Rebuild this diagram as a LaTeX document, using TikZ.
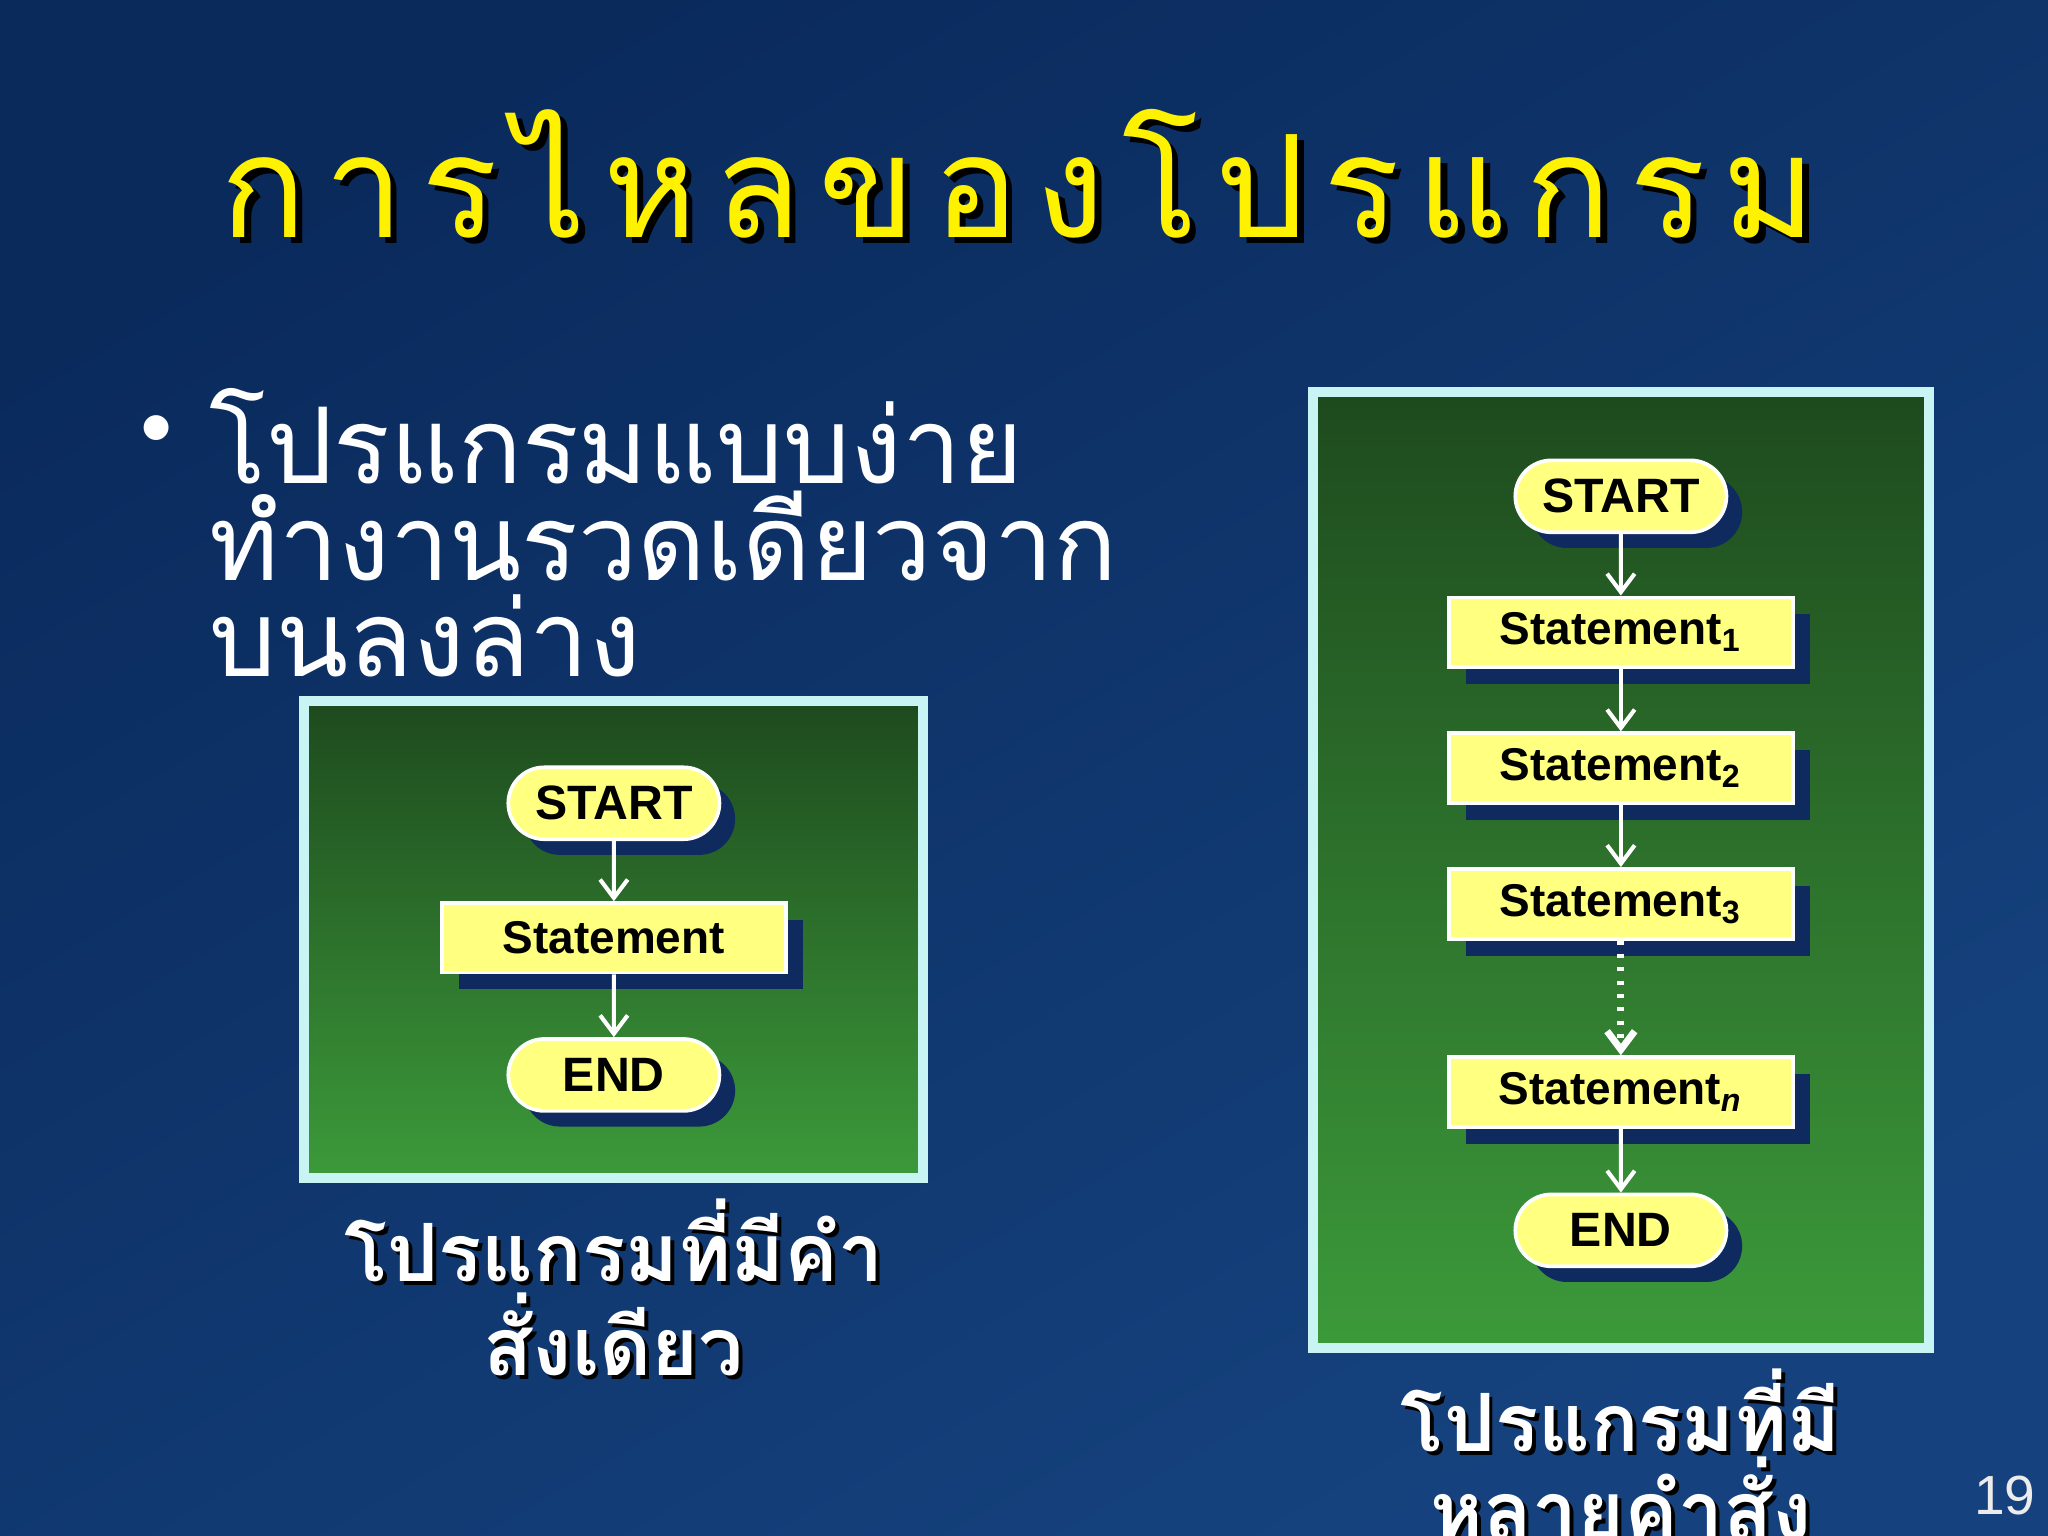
\documentclass[tikz,border=0pt]{standalone}
\usepackage{fontspec}
\setmainfont{Liberation Sans}
\newfontfamily\thai[Script=Thai]{Loma}
\newfontfamily\thaiT[Script=Thai,LetterSpace=12]{Loma}
\usetikzlibrary{shadows,arrows.meta,shapes.misc}
\definecolor{bgA}{HTML}{0A2A5C}
\definecolor{bgB}{HTML}{15427E}
\definecolor{grA}{HTML}{1E4A1E}
\definecolor{grB}{HTML}{3C9A3A}
\definecolor{frame}{HTML}{C8F4F4}
\definecolor{boxy}{HTML}{FFFF80}
\definecolor{shd}{HTML}{0E2A5E}
\tikzset{
 pane/.style={draw=frame,line width=2.2pt,top color=grA,bottom color=grB},
 pill/.style={rounded rectangle,fill=boxy,draw=white,line width=0.8pt,minimum width=1.85cm,minimum height=0.55cm,font=\bfseries\fontsize{10.5}{10.5}\selectfont,drop shadow={shadow xshift=0.12cm,shadow yshift=-0.12cm,fill=shd,opacity=1}},
 stm/.style={rectangle,fill=boxy,draw=white,line width=0.8pt,minimum width=2.63cm,minimum height=0.53cm,font=\bfseries\fontsize{10}{10}\selectfont,drop shadow={shadow xshift=0.13cm,shadow yshift=-0.13cm,fill=shd,opacity=1}},
 flow/.style={draw=white,line width=0.9pt,-{Straight Barb[length=4pt,width=6pt]}},
 captxt/.style={font=\thai\bfseries\fontsize{17.5}{17.5}\selectfont,text=white},
}
\begin{document}
\begin{tikzpicture}[x=0.01cm,y=-0.01cm]
\shade[top color=bgA,bottom color=bgB,shading angle=30] (0,0) rectangle (1568,1176);
\useasboundingbox (0,0) rectangle (1568,1176);
% title
\node[text=black,font=\thaiT\fontsize{31}{31}\selectfont] (tsh) at (785,138) {การไหลของโปรแกรม};
\node[text=yellow,font=\thaiT\fontsize{31}{31}\selectfont] (title) at (780,133) {การไหลของโปรแกรม};
% bullet
\node[text=white,anchor=west] (dot) at (95,335) {\fontsize{20}{20}\selectfont •};
\node[text=white,anchor=north west,align=left,font=\thai\fontsize{23}{21}\selectfont] (btxt) at (148,285) {โปรแกรมแบบง่าย\\ทำงานรวดเดียวจาก\\บนลงล่าง};
% left pane
\draw[pane] (233,537) rectangle (707,902);
\node[pill] (s1) at (470,615) {START};
\node[stm] (st) at (470,718) {Statement};
\node[pill] (e1) at (470,823) {END};
\draw[flow] (s1) -- (st);
\draw[flow] (st) -- (e1);
\node[captxt,text=black] at (473,953) {โปรแกรมที่มีคำ};
\node[captxt] (c1) at (470,950) {โปรแกรมที่มีคำ};
\node[captxt,text=black] at (473,1025) {สั่งเดียว};
\node[captxt] (c2) at (470,1022) {สั่งเดียว};
% right pane
\draw[pane] (1005,300) rectangle (1477,1032);
\node[pill] (s2) at (1241,380) {START};
\node[stm] (a1) at (1241,484) {Statement\textsubscript{1}};
\node[stm] (a2) at (1241,588) {Statement\textsubscript{2}};
\node[stm] (a3) at (1241,692) {Statement\textsubscript{3}};
\node[stm] (an) at (1241,836) {Statement\textsubscript{\itshape n}};
\node[pill] (e2) at (1241,942) {END};
\draw[flow] (s2) -- (a1);
\draw[flow] (a1) -- (a2);
\draw[flow] (a2) -- (a3);
\draw[flow,dotted,line width=1.5pt] (a3) -- (an);
\draw[flow] (an) -- (e2);
\node[captxt,text=black] at (1244,1083) {โปรแกรมที่มี};
\node[captxt] (c3) at (1241,1080) {โปรแกรมที่มี};
\node[captxt,text=black] at (1244,1150) {หลายคำสั่ง};
\node[captxt] (c4) at (1241,1147) {หลายคำสั่ง};
\node[text=white!85!gray,font=\fontsize{12}{12}\selectfont] (pg) at (1535,1145) {19};
\end{tikzpicture}
\end{document}
